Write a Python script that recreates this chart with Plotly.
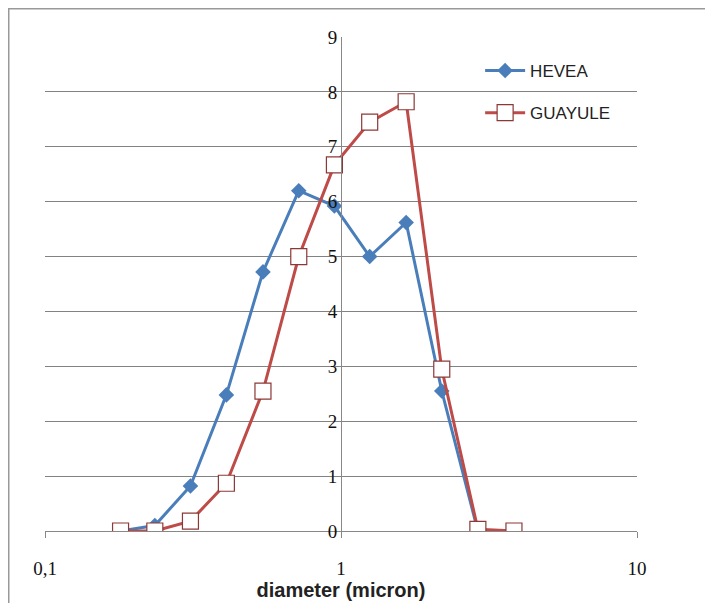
import plotly.graph_objects as go

diameter = [0.18, 0.235, 0.31, 0.41, 0.545, 0.72, 0.95, 1.25, 1.66, 2.19, 2.9, 3.84]
hevea = [0.0, 0.1, 0.82, 2.48, 4.72, 6.2, 5.92, 5.0, 5.62, 2.55, 0.0, 0.0]
guayule = [0.0, 0.0, 0.18, 0.87, 2.55, 5.0, 6.67, 7.45, 7.82, 2.95, 0.03, 0.0]

x_tickvals = [0.1, 1, 10]
x_ticktext = ["0,1", "1", "10"]
y_tickvals = list(range(0, 10))

fig = go.Figure()
fig.add_trace(go.Scatter(
    x=diameter, y=hevea, name="HEVEA", mode="lines+markers", legendgroup="h",
    line=dict(color="#4A7EBB", width=3),
    marker=dict(symbol="diamond", size=12, color="#4A7EBB"),
))
fig.add_trace(go.Scatter(
    x=diameter, y=guayule, name="GUAYULE", mode="lines+markers", legendgroup="g",
    line=dict(color="#BE4B48", width=3),
    marker=dict(symbol="square", size=16, color="white",
                line=dict(color="#8C3836", width=1.2)),
))

W, H = 705, 595
L, R, T, B = 37, 76, 29, 72
PW, PH = W - L - R, H - T - B

fig.update_layout(
    width=W, height=H,
    margin=dict(l=L, r=R, t=T, b=B, autoexpand=False),
    paper_bgcolor="white", plot_bgcolor="white",
    showlegend=True,
    legend=dict(x=0.735, y=1 - (45 - T) / PH, xanchor="left", yanchor="top",
                bgcolor="rgba(0,0,0,0)",
                font=dict(family="Liberation Sans", size=17, color="#222"),
                itemwidth=40, tracegroupgap=17, traceorder="grouped"),
    xaxis=dict(type="log", range=[-1, 1], tickvals=x_tickvals, ticktext=x_ticktext,
               showgrid=False, zeroline=False, showline=True, linecolor="#888", linewidth=1,
               ticks="outside", ticklen=6, tickcolor="#888",
               ticklabelstandoff=14,
               tickfont=dict(family="Liberation Serif", size=19, color="#111"),
               title=dict(text="<b>diameter (micron)</b>", standoff=0,
                          font=dict(family="Liberation Sans", size=20, color="#222"))),
    yaxis=dict(range=[0, 9], tickvals=y_tickvals, anchor="free", position=0.5,
               showgrid=True, gridcolor="#828282", gridwidth=1,
               zeroline=False, showline=True, linecolor="#888", linewidth=1,
               ticks="", tickfont=dict(family="Liberation Serif", size=19, color="#111")),
    shapes=[
        dict(type="line", xref="paper", yref="paper", x0=-L / PW, x1=1 + R / PW,
             y0=1 + (T - 0.5) / PH, y1=1 + (T - 0.5) / PH, line=dict(color="#999", width=2)),
        dict(type="line", xref="paper", yref="paper", x0=-(L - 0.5) / PW, x1=-(L - 0.5) / PW,
             y0=-B / PH, y1=1 + T / PH, line=dict(color="#999", width=2)),
    ],
)

fig.write_html("out.html")
